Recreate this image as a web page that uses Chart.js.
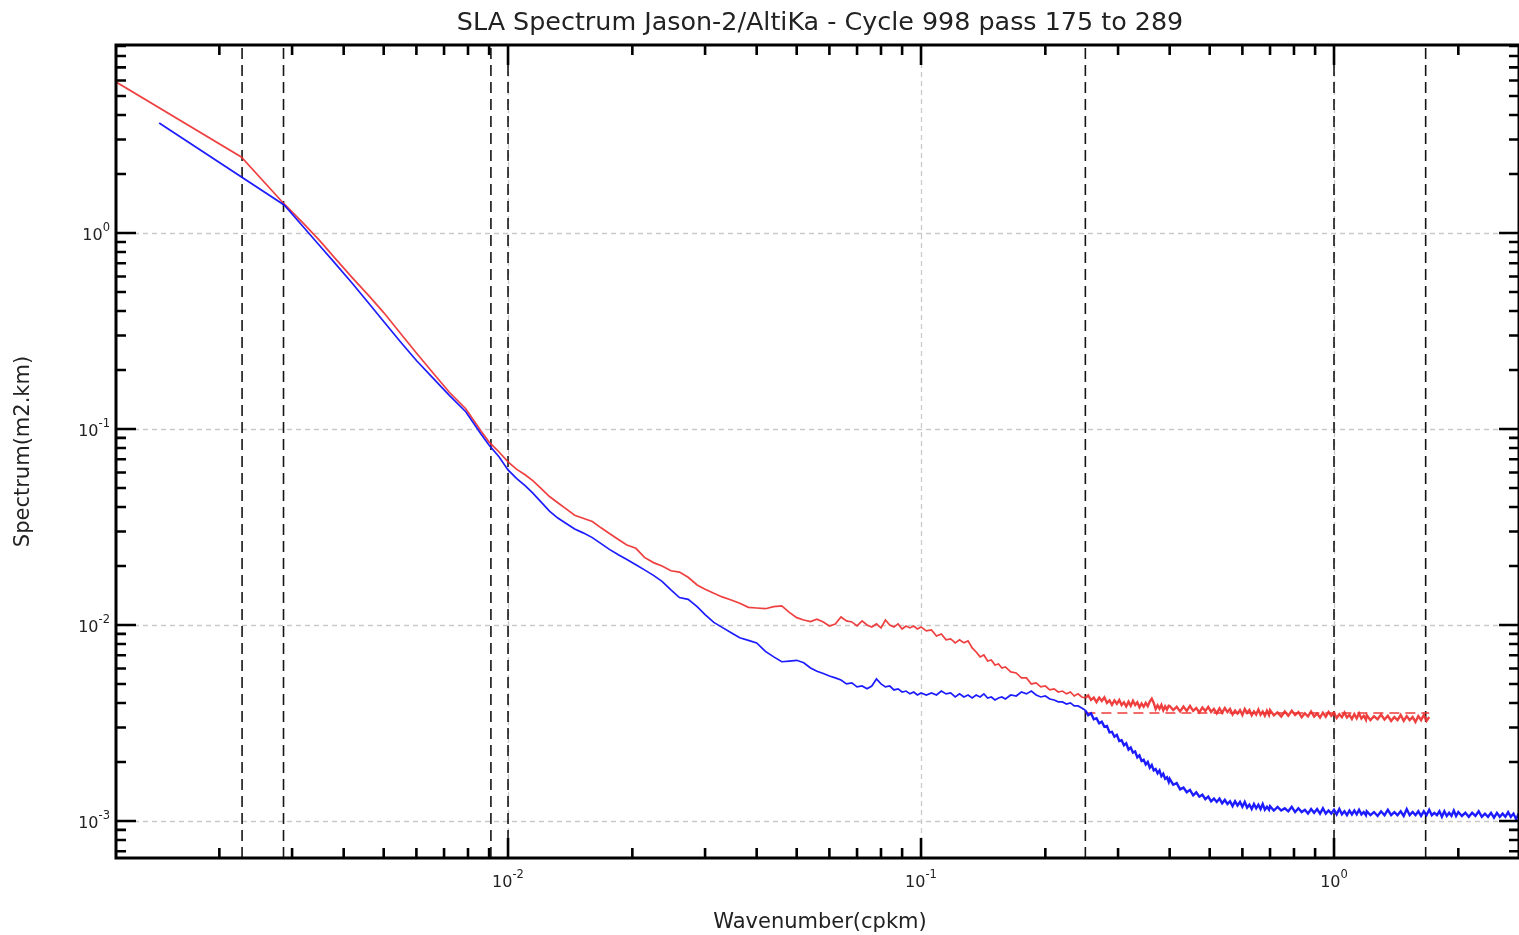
<!DOCTYPE html>
<html>
<head>
<meta charset="utf-8">
<title>SLA Spectrum Jason-2/AltiKa</title>
<script src="https://cdn.jsdelivr.net/npm/chart.js@4.4.1/dist/chart.umd.min.js"></script>
<style>
  html, body { margin: 0; padding: 0; background: #fff; }
  canvas { display: block; }
</style>
</head>
<body>
<canvas id="psdChart" width="1519" height="935"></canvas>
<script>
// axis ranges (cpkm, m2.km)
const X_MIN = 0.001124, X_MAX = 2.805;
const Y_MIN = 6.47e-4, Y_MAX = 9.1;

// labelled decades on each axis
const xDecades = [-2, -1, 0];
const yDecades = [0, -1, -2, -3];

// wavenumber grid shared by both spectra (cpkm)
const freq = [
  0.001125, 0.00143, 0.00226, 0.00287,
  0.0032, 0.0035, 0.0038, 0.0042, 0.0046, 0.0050, 0.0055, 0.0060, 0.0066, 0.0072, 0.0079, 0.0086, 0.0090, 0.0095, 0.0100,
  0.0105, 0.011, 0.0115, 0.012, 0.0126, 0.0132, 0.0138, 0.0145, 0.0152, 0.016, 0.0168, 0.0176, 0.0185, 0.0194, 0.0204,
  0.0214, 0.0225, 0.0236, 0.0248, 0.026, 0.0273, 0.0287, 0.030, 0.0315, 0.033, 0.0347, 0.0364, 0.0382, 0.040, 0.042,
  0.044, 0.046, 0.048, 0.050, 0.052, 0.054, 0.056, 0.058,
  0.060, 0.062, 0.064, 0.066, 0.068, 0.070, 0.072, 0.074, 0.076, 0.078, 0.080, 0.082, 0.084, 0.086, 0.088, 0.090,
  0.092, 0.094, 0.096, 0.098, 0.100, 0.103, 0.106, 0.109, 0.112, 0.115, 0.118, 0.121, 0.124, 0.127, 0.130, 0.133,
  0.136, 0.139, 0.142, 0.145, 0.148, 0.151, 0.154, 0.157, 0.160, 0.165, 0.170, 0.175, 0.180, 0.185, 0.190, 0.195,
  0.200, 0.205, 0.210, 0.215, 0.220, 0.225, 0.230, 0.235, 0.240, 0.245,
  0.250, 0.254, 0.258, 0.262, 0.266, 0.270, 0.274, 0.278, 0.282, 0.286, 0.290, 0.294, 0.298, 0.302, 0.306, 0.310,
  0.314, 0.318, 0.322, 0.326, 0.330, 0.334, 0.338, 0.342, 0.346, 0.350, 0.354, 0.358, 0.362, 0.366, 0.370, 0.374,
  0.378, 0.382, 0.386, 0.390, 0.394, 0.398,
  0.400, 0.408, 0.416, 0.424, 0.432, 0.440, 0.448, 0.456, 0.464, 0.472, 0.480, 0.488, 0.496, 0.504, 0.512, 0.520,
  0.528, 0.536, 0.544, 0.552, 0.560, 0.568, 0.576, 0.584, 0.592, 0.600, 0.608, 0.616, 0.624, 0.632, 0.640, 0.648,
  0.656, 0.664, 0.672, 0.680, 0.688, 0.696,
  0.700, 0.715, 0.730, 0.745, 0.760, 0.775, 0.790, 0.805, 0.820, 0.835, 0.850, 0.865, 0.880, 0.895, 0.910, 0.925,
  0.940, 0.955, 0.970, 0.985, 1.000, 1.015, 1.030, 1.045, 1.060, 1.075, 1.090, 1.105, 1.120, 1.135, 1.150, 1.165,
  1.180, 1.195,
  1.200, 1.225, 1.250, 1.275, 1.300, 1.325, 1.350, 1.375, 1.400, 1.425, 1.450, 1.475, 1.500, 1.525, 1.550, 1.575,
  1.600, 1.625, 1.650, 1.675, 1.700, 1.725, 1.750, 1.775, 1.800, 1.825, 1.850, 1.875, 1.900, 1.925, 1.950, 1.975,
  2.00, 2.04, 2.08, 2.12, 2.16, 2.20, 2.24, 2.28, 2.32, 2.36, 2.40, 2.44, 2.48, 2.52, 2.56, 2.60, 2.64, 2.68, 2.72,
  2.76, 2.80
];

// Jason-2 spectrum (red), stops at 1.7 cpkm
const psdJason = [
  5.89, null, 2.44, 1.406,
  1.117, 0.9135, 0.748, 0.590, 0.479, 0.3925, 0.306, 0.2439, 0.1917, 0.1543, 0.1269, 0.0977, 0.0857, 0.0765, 0.0679,
  0.0622, 0.0584, 0.0543, 0.0499, 0.0452, 0.0420, 0.0392, 0.0363, 0.0350, 0.0337, 0.0313, 0.0293, 0.0273, 0.0256, 0.0246,
  0.0221, 0.0208, 0.0200, 0.0189, 0.0186, 0.0175, 0.0160, 0.0152, 0.0145, 0.0139, 0.0134, 0.0129, 0.0123, 0.0122, 0.0121,
  0.0124, 0.0125, 0.0116, 0.0109, 0.0106, 0.0104, 0.0107, 0.01036,
  0.00988, 0.01012, 0.01098, 0.01048, 0.01036, 0.00988, 0.01048, 0.0100, 0.00977, 0.01012, 0.00966, 0.01060, 0.0100,
  0.00977, 0.01012, 0.00954, 0.00988, 0.00966, 0.00988, 0.00954, 0.00977, 0.00932, 0.00943, 0.00879, 0.00900, 0.00839,
  0.00849, 0.00810, 0.00839, 0.00810, 0.00829, 0.00763, 0.00728, 0.00687, 0.00703, 0.00655, 0.00663, 0.00625, 0.00632,
  0.00603, 0.00611, 0.00576, 0.00569, 0.00537, 0.00537, 0.00500, 0.00506, 0.00483, 0.00488, 0.00466, 0.00472, 0.00455,
  0.00460, 0.00445, 0.00455, 0.00434, 0.00445, 0.00429,
  0.00424, 0.00437, 0.00414, 0.00426, 0.00404, 0.00426, 0.00409, 0.00427, 0.00400, 0.00412, 0.00391, 0.00412, 0.00396,
  0.00414, 0.00390, 0.00403, 0.00384, 0.00406, 0.00387, 0.00410, 0.00390, 0.00403, 0.00380, 0.00397, 0.00383, 0.00400,
  0.00385, 0.00407, 0.00421, 0.00400, 0.00372, 0.00389, 0.00374, 0.00391, 0.00367, 0.00384, 0.00370, 0.00387,
  0.00386, 0.00368, 0.00382, 0.00362, 0.00383, 0.00364, 0.00386, 0.00364, 0.00377, 0.00358, 0.00379, 0.00364, 0.00382,
  0.00360, 0.00373, 0.00354, 0.00375, 0.00356, 0.00377, 0.00360, 0.00373, 0.00349, 0.00366, 0.00353, 0.00368, 0.00347,
  0.00373, 0.00356, 0.00368, 0.00346, 0.00362, 0.00349, 0.00370, 0.00348, 0.00361, 0.00344, 0.00365, 0.00347,
  0.00368, 0.00346, 0.00358, 0.00341, 0.00362, 0.00344, 0.00365, 0.00347, 0.00359, 0.00338, 0.00354, 0.00342, 0.00362,
  0.00341, 0.00353, 0.00337, 0.00357, 0.00340, 0.00360, 0.00344, 0.00356, 0.00335, 0.00350, 0.00338, 0.00357, 0.00337,
  0.00348, 0.00331, 0.00351, 0.00334, 0.00354, 0.00333, 0.00344, 0.00328,
  0.00347, 0.00327, 0.00342, 0.00330, 0.00349, 0.00329, 0.00344, 0.00324, 0.00339, 0.00327, 0.00347, 0.00324, 0.00343,
  0.00327, 0.00339, 0.00320, 0.00343, 0.00327, 0.00347, 0.00324, 0.00339
];

// AltiKa spectrum (blue)
const psdAltika = [
  null, 3.64, null, 1.389,
  1.069, 0.861, 0.706, 0.5525, 0.438, 0.3535, 0.2772, 0.2234, 0.1808, 0.1489, 0.1225, 0.0943, 0.0825, 0.0723, 0.0618,
  0.0558, 0.0514, 0.0469, 0.0426, 0.0381, 0.0351, 0.0330, 0.0309, 0.0295, 0.0279, 0.0260, 0.0243, 0.0228, 0.0216, 0.0203,
  0.0191, 0.0179, 0.0167, 0.0151, 0.0138, 0.0135, 0.0124, 0.0113, 0.0103, 0.00972, 0.00912, 0.00860, 0.00834, 0.00810,
  0.00733, 0.00687, 0.00649, 0.00654, 0.00660, 0.00641, 0.00603, 0.00580, 0.00565,
  0.00549, 0.00537, 0.00524, 0.00500, 0.00506, 0.00483, 0.00488, 0.00472, 0.00488, 0.00530, 0.00500, 0.00483, 0.00488,
  0.00466, 0.00472, 0.00455, 0.00460, 0.00445, 0.00455, 0.00439, 0.00450, 0.00439, 0.00450, 0.00439, 0.00460, 0.00445,
  0.00450, 0.00429, 0.00445, 0.00429, 0.00439, 0.00424, 0.00439, 0.00429, 0.00445, 0.00424, 0.00429, 0.00414, 0.00424,
  0.00429, 0.00419, 0.00439, 0.00434, 0.00455, 0.00445, 0.00460, 0.00439, 0.00429, 0.00434, 0.00419, 0.00414, 0.00405,
  0.00405, 0.00395, 0.00400, 0.00386, 0.00386, 0.00377,
  0.00367, 0.00346, 0.00354, 0.00330, 0.00334, 0.00315, 0.00321, 0.00302, 0.00305, 0.00283, 0.00285, 0.00269, 0.00275,
  0.00256, 0.00258, 0.00243, 0.00249, 0.00231, 0.00237, 0.00223, 0.00226, 0.00211, 0.00216, 0.00202, 0.00205, 0.00194,
  0.00200, 0.00187, 0.00193, 0.00181, 0.00184, 0.00175, 0.00181, 0.00169, 0.00174, 0.00164, 0.00167, 0.00158,
  0.00164, 0.00153, 0.00156, 0.00145, 0.00148, 0.00140, 0.00144, 0.00135, 0.00140, 0.00133, 0.00136, 0.00129, 0.00133,
  0.00126, 0.00130, 0.00125, 0.00130, 0.00123, 0.00128, 0.00122, 0.00126, 0.00119, 0.00126, 0.00120, 0.00125, 0.00118,
  0.00125, 0.00117, 0.00121, 0.00115, 0.00122, 0.00116, 0.00121, 0.00115, 0.00122, 0.00114, 0.00118, 0.00114,
  0.00119, 0.00113, 0.00118, 0.00113, 0.00116, 0.00112, 0.00118, 0.00111, 0.00116, 0.00111, 0.00114, 0.00109, 0.00115,
  0.00110, 0.00115, 0.00109, 0.00116, 0.00109, 0.00113, 0.00109, 0.00114, 0.00108, 0.00115, 0.00108, 0.00112, 0.00107,
  0.00113, 0.00108, 0.00113, 0.00108, 0.00114, 0.00108, 0.00111, 0.00107,
  0.00112, 0.00107, 0.00111, 0.00106, 0.00112, 0.00107, 0.00114, 0.00107, 0.00111, 0.00107, 0.00112, 0.00106, 0.00115,
  0.00107, 0.00111, 0.00107, 0.00112, 0.00106, 0.00112, 0.00107, 0.00114, 0.00107, 0.00110, 0.00107, 0.00112, 0.00105,
  0.00112, 0.00106, 0.00110, 0.00106, 0.00113, 0.00106,
  0.00111, 0.00106, 0.00110, 0.00105, 0.00110, 0.00106, 0.00112, 0.00105, 0.00109, 0.00105, 0.00110, 0.00104, 0.00110,
  0.00105, 0.00109, 0.00105, 0.00111, 0.00105, 0.00109, 0.00102, 0.00109
];

// vertical cut-off marks (cpkm) and the Jason-2 noise plateau
const cutoffK = [0.00227, 0.00286, 0.00909, 0.01, 0.25, 1.0, 1.667];
const noiseK = [0.25, 1.70];
const noiseLevel = [0.00355, 0.00355];

const toPoints = (vals) => vals
  .map((v, i) => ({ x: freq[i], y: v }))
  .filter(p => p.y !== null);

// thicker stroke where the spectra are noise dominated
const noisyWidth = (ctx) => (ctx.p0.parsed.x >= 0.25 ? 2.4 : 1.7);

function logTicks(min, max) {
  const out = [];
  for (let e = Math.floor(Math.log10(min)); e <= Math.ceil(Math.log10(max)); e++) {
    for (let m = 1; m <= 9; m++) {
      const v = m * Math.pow(10, e);
      if (v >= min && v <= max) out.push({ v, major: m === 1 });
    }
  }
  return out;
}

function drawPower(ctx, exp, x, y, align) {
  const base = '10', sup = String(exp);
  ctx.font = '16px "DejaVu Sans"';
  const wb = ctx.measureText(base).width;
  ctx.font = '11.5px "DejaVu Sans"';
  const ws = ctx.measureText(sup).width;
  const x0 = align === 'right' ? x - wb - ws : x - (wb + ws) / 2;
  ctx.textAlign = 'left';
  ctx.textBaseline = 'alphabetic';
  ctx.font = '16px "DejaVu Sans"';
  ctx.fillText(base, x0, y);
  ctx.font = '11.5px "DejaVu Sans"';
  ctx.fillText(sup, x0 + wb, y - 9);
}

const axesDecor = {
  id: 'axesDecor',
  beforeDatasetsDraw(chart) {
    const { ctx, chartArea: a, scales: { x, y } } = chart;
    ctx.save();
    ctx.strokeStyle = '#c9c9c9';
    ctx.lineWidth = 1.3;
    ctx.setLineDash([5, 4]);
    xDecades.forEach(e => {
      const px = Math.round(x.getPixelForValue(Math.pow(10, e))) + 0.5;
      ctx.beginPath(); ctx.moveTo(px, a.top); ctx.lineTo(px, a.bottom); ctx.stroke();
    });
    yDecades.forEach(e => {
      const py = Math.round(y.getPixelForValue(Math.pow(10, e))) + 0.5;
      ctx.beginPath(); ctx.moveTo(a.left, py); ctx.lineTo(a.right, py); ctx.stroke();
    });
    ctx.restore();
  },
  afterDatasetsDraw(chart) {
    const { ctx, chartArea: a, scales: { x, y } } = chart;
    ctx.save();
    ctx.setLineDash([]);
    ctx.strokeStyle = '#000';

    // inward ticks on all four sides
    ctx.lineWidth = 2.6;
    logTicks(X_MIN, X_MAX).forEach(t => {
      const px = x.getPixelForValue(t.v), len = t.major ? 20 : 10;
      ctx.beginPath();
      ctx.moveTo(px, a.bottom); ctx.lineTo(px, a.bottom - len);
      ctx.moveTo(px, a.top); ctx.lineTo(px, a.top + len);
      ctx.stroke();
    });
    logTicks(Y_MIN, Y_MAX).forEach(t => {
      const py = y.getPixelForValue(t.v), len = t.major ? 20 : 10;
      ctx.beginPath();
      ctx.moveTo(a.left, py); ctx.lineTo(a.left + len, py);
      ctx.moveTo(a.right, py); ctx.lineTo(a.right - len, py);
      ctx.stroke();
    });

    // frame
    ctx.lineWidth = 3;
    ctx.strokeRect(a.left, a.top, a.right - a.left, a.bottom - a.top);

    // tick labels
    ctx.fillStyle = '#222';
    xDecades.forEach(e => drawPower(ctx, e, x.getPixelForValue(Math.pow(10, e)), a.bottom + 29, 'center'));
    yDecades.forEach(e => drawPower(ctx, e, a.left - 6, y.getPixelForValue(Math.pow(10, e)) + 7, 'right'));

    // titles
    ctx.textAlign = 'center';
    ctx.textBaseline = 'alphabetic';
    ctx.font = '25.4px "DejaVu Sans"';
    ctx.fillText('SLA Spectrum Jason-2/AltiKa - Cycle 998 pass 175 to 289', 820, 30);
    ctx.font = '21px "DejaVu Sans"';
    ctx.fillText('Wavenumber(cpkm)', 820, 928);
    ctx.translate(29, (a.top + a.bottom) / 2);
    ctx.rotate(-Math.PI / 2);
    ctx.fillText('Spectrum(m2.km)', 0, 0);
    ctx.restore();
  }
};

const cutoffSets = cutoffK.map(k => ({
  data: [{ x: k, y: Y_MIN }, { x: k, y: Y_MAX }],
  borderColor: '#151515',
  borderWidth: 1.6,
  borderDash: [11, 6],
  pointRadius: 0,
  order: 4
}));

new Chart(document.getElementById('psdChart'), {
  type: 'line',
  data: {
    datasets: [
      ...cutoffSets,
      {
        label: 'Jason-2',
        data: toPoints(psdJason),
        borderColor: 'rgba(238, 48, 48, 0.92)',
        borderWidth: 1.7,
        segment: { borderWidth: noisyWidth },
        pointRadius: 0,
        order: 3
      },
      {
        label: 'noise',
        data: noiseK.map((k, i) => ({ x: k, y: noiseLevel[i] })),
        borderColor: 'rgba(238, 48, 48, 0.95)',
        borderWidth: 1.5,
        borderDash: [10, 6],
        pointRadius: 0,
        order: 2
      },
      {
        label: 'AltiKa',
        data: toPoints(psdAltika),
        borderColor: 'rgba(16, 16, 255, 0.95)',
        borderWidth: 1.7,
        segment: { borderWidth: noisyWidth },
        pointRadius: 0,
        order: 1
      }
    ]
  },
  options: {
    responsive: false,
    animation: false,
    events: [],
    layout: { padding: { left: 116, top: 45, right: 0, bottom: 77 } },
    elements: { line: { tension: 0 } },
    plugins: {
      legend: { display: false },
      tooltip: { enabled: false },
      title: { display: false }
    },
    scales: {
      x: { type: 'logarithmic', bounds: 'data', min: X_MIN, max: X_MAX, display: false },
      y: { type: 'logarithmic', bounds: 'data', min: Y_MIN, max: Y_MAX, display: false }
    }
  },
  plugins: [axesDecor]
});
</script>
</body>
</html>
